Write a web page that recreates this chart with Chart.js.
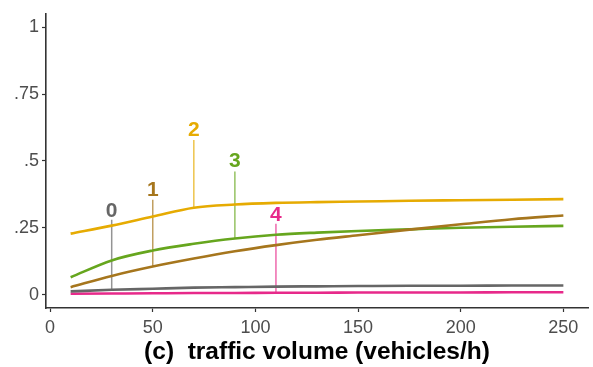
<!doctype html>
<html>

<head>
	<title>Traffic volume</title>
	<script src="https://cdn.jsdelivr.net/npm/chart.js@4/dist/chart.umd.min.js"></script>
	<style>
		html, body { margin: 0; padding: 0; background: #fff; }
		#wrap { width: 593px; height: 367px; }
	</style>
</head>

<body>
	<div id="wrap">
		<canvas id="canvas"></canvas>
	</div>
	<script>
		// x positions where the curves were read
		var xs = [10, 30, 50, 70, 90, 110, 130, 150, 175, 200, 225, 250];

		var series0 = [0.012, 0.018, 0.022, 0.026, 0.028, 0.030, 0.031, 0.032, 0.033, 0.033, 0.034, 0.034];
		var series1 = [0.028, 0.070, 0.105, 0.135, 0.162, 0.185, 0.205, 0.222, 0.243, 0.263, 0.282, 0.296];
		var series2 = [0.228, 0.258, 0.292, 0.325, 0.337, 0.343, 0.346, 0.348, 0.351, 0.353, 0.355, 0.357];
		var series3 = [0.065, 0.128, 0.165, 0.190, 0.210, 0.224, 0.232, 0.238, 0.244, 0.250, 0.254, 0.257];
		var series4 = [0.003, 0.004, 0.005, 0.006, 0.006, 0.007, 0.007, 0.008, 0.008, 0.008, 0.009, 0.009];

		var seriesNames = ['0', '1', '2', '3', '4'];
		var seriesColors = ['#666666', '#A6761D', '#E6AB02', '#66A61E', '#E7298A'];

		// label leaders: x, line y, leader top, label y
		var labelX = [30, 50, 70, 90, 110];
		var leaderBottom = [0.018, 0.105, 0.325, 0.210, 0.007];
		var leaderTop = [0.280, 0.355, 0.578, 0.460, 0.265];
		var labelY = [0.313, 0.390, 0.613, 0.497, 0.298];

		var xTicks = [0, 50, 100, 150, 200, 250];
		var yTicks = [0, 0.25, 0.5, 0.75, 1];
		var yTickLabels = ['0', '.25', '.5', '.75', '1'];

		var allSeries = [series0, series1, series2, series3, series4];

		function toPoints(vals) {
			return vals.map(function(v, i) { return {x: xs[i], y: v}; });
		}

		function fade(hex, a) {
			var n = parseInt(hex.slice(1), 16);
			return 'rgba(' + (n >> 16) + ',' + ((n >> 8) & 255) + ',' + (n & 255) + ',' + a + ')';
		}

		var datasets = [];
		seriesNames.forEach(function(name, i) {
			datasets.push({
				label: 'leader ' + name,
				data: [{x: labelX[i], y: leaderBottom[i]}, {x: labelX[i], y: leaderTop[i]}],
				borderColor: fade(seriesColors[i], 0.7),
				borderWidth: 1.5,
				pointRadius: 0,
				order: 2
			});
		});
		allSeries.forEach(function(vals, i) {
			datasets.push({
				label: seriesNames[i],
				data: toPoints(vals),
				borderColor: seriesColors[i],
				borderWidth: 2.6,
				pointRadius: 0,
				cubicInterpolationMode: 'monotone',
				order: 1
			});
		});

		var labelPlugin = {
			id: 'curveLabels',
			afterDatasetsDraw: function(chart) {
				var ctx = chart.ctx;
				var xs_ = chart.scales.x, ys_ = chart.scales.y;
				ctx.save();
				ctx.font = 'bold 21px "Liberation Sans", Arial, sans-serif';
				ctx.textAlign = 'center';
				ctx.textBaseline = 'middle';
				seriesNames.forEach(function(name, i) {
					ctx.fillStyle = seriesColors[i];
					ctx.fillText(name, xs_.getPixelForValue(labelX[i]), ys_.getPixelForValue(labelY[i]));
				});
				ctx.restore();
			}
		};

		var tickFont = {family: '"Liberation Sans", Arial, sans-serif', size: 18};

		var config = {
			type: 'line',
			data: {datasets: datasets},
			plugins: [labelPlugin],
			options: {
				responsive: false,
				animation: false,
				layout: {padding: {top: 13, right: 5, left: 0, bottom: 0}},
				plugins: {
					legend: {display: false},
					tooltip: {enabled: false}
				},
				scales: {
					x: {
						type: 'linear',
						min: -2,
						max: 262,
						afterBuildTicks: function(scale) {
							scale.ticks = xTicks.map(function(v) { return {value: v}; });
						},
						afterFit: function(scale) {
							scale.height = 59;
						},
						grid: {display: true, drawOnChartArea: false, tickLength: 4, tickColor: '#333', tickWidth: 1.2},
						border: {display: true, color: '#333', width: 1.6},
						ticks: {color: '#4d4d4d', font: tickFont, padding: 5, maxRotation: 0},
						title: {
							display: true,
							text: '(c)  traffic volume (vehicles/h)',
							color: '#000',
							font: {family: '"Liberation Sans", Arial, sans-serif', size: 24.5, weight: 'bold'},
							padding: {top: 0, bottom: 0}
						}
					},
					y: {
						type: 'linear',
						min: -0.05,
						max: 1.05,
						afterBuildTicks: function(scale) {
							scale.ticks = yTicks.map(function(v) { return {value: v}; });
						},
						afterFit: function(scale) {
							scale.width = 46;
						},
						grid: {display: true, drawOnChartArea: false, tickLength: 4, tickColor: '#333', tickWidth: 1.2},
						border: {display: true, color: '#333', width: 1.6},
						ticks: {
							color: '#4d4d4d',
							font: tickFont,
							padding: 3,
							callback: function(value) {
								var k = yTicks.indexOf(value);
								return k >= 0 ? yTickLabels[k] : '';
							}
						}
					}
				}
			}
		};

		var cv = document.getElementById('canvas');
		cv.width = 593;
		cv.height = 367;
		window.myChart = new Chart(cv, config);
	</script>
</body>

</html>
